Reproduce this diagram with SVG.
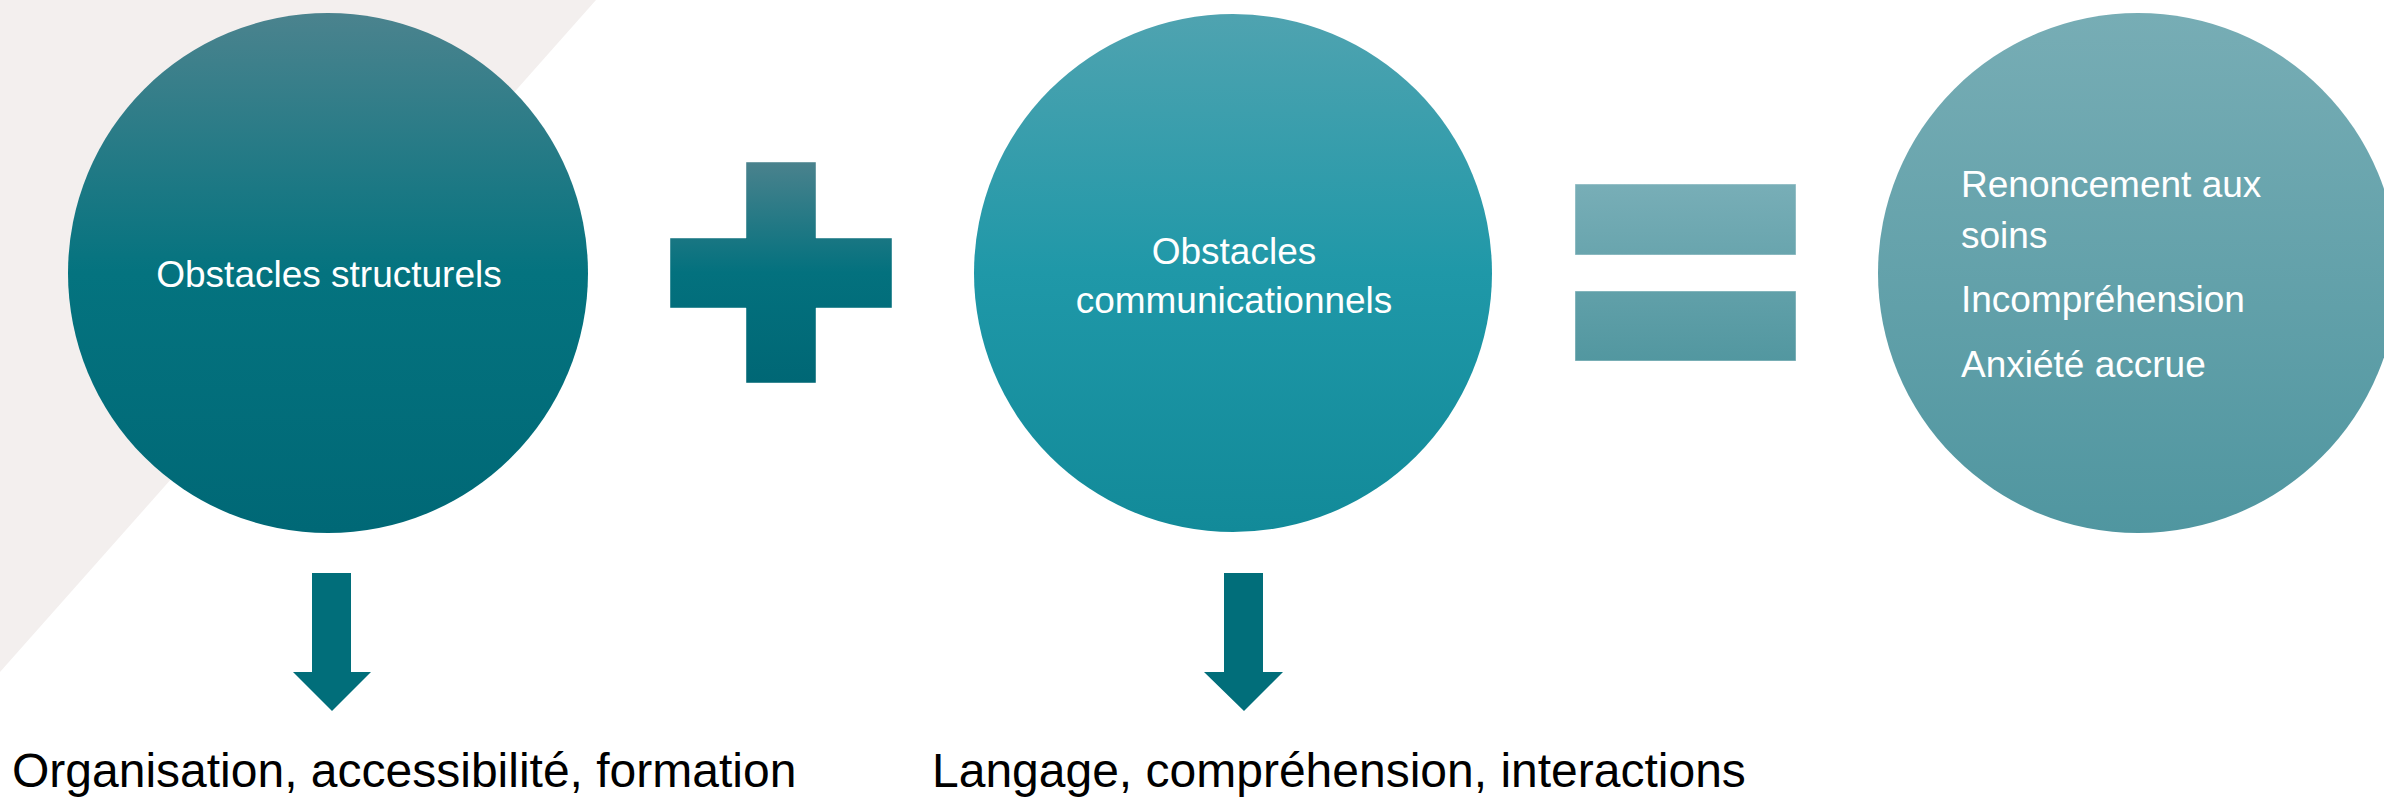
<svg xmlns="http://www.w3.org/2000/svg" width="2384" height="797" viewBox="0 0 2384 797">
<style>
.t{font-family:"Liberation Sans",Arial,sans-serif;fill:#ffffff;font-size:37px}
.b{font-family:"Liberation Sans",Arial,sans-serif;fill:#000000;font-size:48px}
.edge{stroke:#ffffff;stroke-opacity:0.45;stroke-width:1}
</style>
<defs>
<linearGradient id="g1" x1="0" y1="0" x2="0" y2="1">
<stop offset="0" stop-color="#4b838e"/>
<stop offset="0.5" stop-color="#04737f"/>
<stop offset="1" stop-color="#006876"/>
</linearGradient>
<linearGradient id="g2" x1="0" y1="0" x2="0" y2="1">
<stop offset="0" stop-color="#4fa3b0"/>
<stop offset="0.5" stop-color="#1f98a8"/>
<stop offset="1" stop-color="#128a99"/>
</linearGradient>
<linearGradient id="g3" x1="0" y1="0" x2="0" y2="1">
<stop offset="0" stop-color="#77adb5"/>
<stop offset="1" stop-color="#5096a0"/>
</linearGradient>
<linearGradient id="gp" gradientUnits="userSpaceOnUse" x1="0" y1="162" x2="0" y2="383">
<stop offset="0" stop-color="#4a828d"/>
<stop offset="0.5" stop-color="#03717e"/>
<stop offset="1" stop-color="#006775"/>
</linearGradient>
<linearGradient id="ge" gradientUnits="userSpaceOnUse" x1="0" y1="184" x2="0" y2="361">
<stop offset="0" stop-color="#78aeb7"/>
<stop offset="1" stop-color="#5297a0"/>
</linearGradient>
</defs>
<rect width="2384" height="797" fill="#ffffff"/>
<polygon points="0,0 596,0 0,672" fill="#f3efee"/>
<g id="node-structurels">
<circle cx="328" cy="273" r="260" fill="url(#g1)"/>
<text class="t" x="329" y="287" text-anchor="middle">Obstacles structurels</text>
</g>
<g id="node-plus">
<path class="edge" d="M746,162 H816 V238 H892 V308 H816 V383 H746 V308 H670 V238 H746 Z" fill="url(#gp)"/>
</g>
<g id="node-communicationnels">
<circle cx="1233" cy="273" r="259" fill="url(#g2)"/>
<text class="t" x="1234" y="264" text-anchor="middle">Obstacles</text>
<text class="t" x="1234" y="313" text-anchor="middle">communicationnels</text>
</g>
<g id="node-equals">
<rect class="edge" x="1575" y="184" width="221" height="71" fill="url(#ge)"/>
<rect class="edge" x="1575" y="291" width="221" height="70" fill="url(#ge)"/>
</g>
<g id="node-result">
<circle cx="2138" cy="273" r="260" fill="url(#g3)"/>
<text class="t" x="1961" y="197">Renoncement aux</text>
<text class="t" x="1961" y="248">soins</text>
<text class="t" x="1961" y="312">Incompréhension</text>
<text class="t" x="1961" y="377">Anxiété accrue</text>
</g>
<g id="connectors">
<polygon points="312,573 351,573 351,672 371,672 332,711 293,672 312,672" fill="#016e7a"/>
<polygon points="1224,573 1263,573 1263,672 1283,672 1244,711 1204,672 1224,672" fill="#016e7a"/>
</g>
<g id="label-structurels">
<text class="b" x="12" y="787">Organisation, accessibilité, formation</text>
</g>
<g id="label-communicationnels">
<text class="b" x="932" y="787">Langage, compréhension, interactions</text>
</g>
</svg>
